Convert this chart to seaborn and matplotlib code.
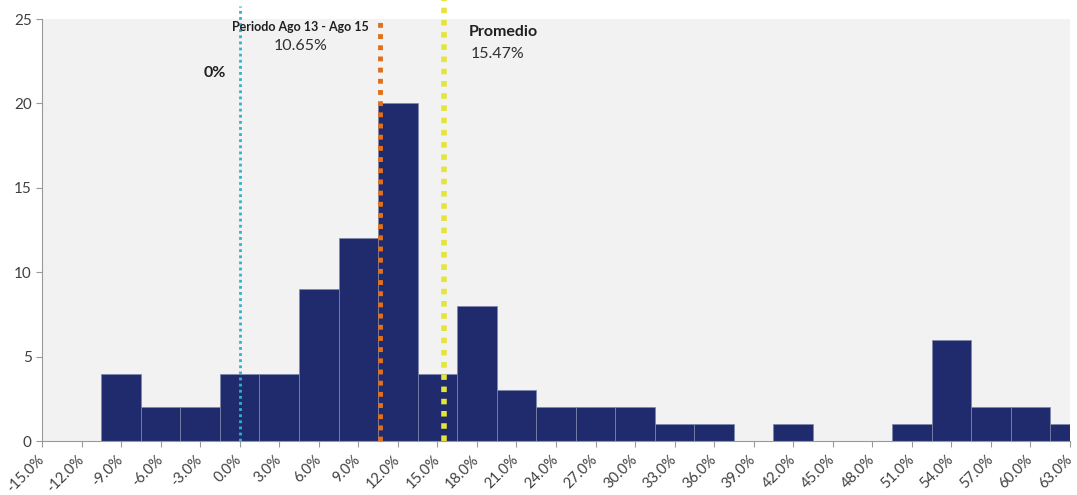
import numpy as np
import pandas as pd
import seaborn as sns
import matplotlib.pyplot as plt
from matplotlib.ticker import FuncFormatter

# centros de los intervalos (%) y frecuencias
centros = [-15, -12, -9, -6, -3, 0, 3, 6, 9, 12, 15, 18, 21, 24, 27,
           30, 33, 36, 39, 42, 45, 48, 51, 54, 57, 60, 63]
frecuencia = [0, 0, 4, 2, 2, 4, 4, 9, 12, 20, 4, 8, 3, 2, 2,
              2, 1, 1, 0, 1, 0, 0, 1, 6, 2, 2, 1]

# lineas de referencia
cero = 0.0
periodo = 10.65
promedio = 15.47

base = pd.DataFrame({'rend': centros, 'freq': frecuencia})

sns.set_style('white')
plt.rcParams['font.family'] = ['Lato', 'DejaVu Sans']

fig = plt.figure(figsize=(10.77, 4.95), dpi=100)
ax = fig.add_axes([0.039, 0.109, 0.9545, 0.8526])
ax.set_facecolor('#f2f2f2')

sns.histplot(data=base, x='rend', weights='freq', binwidth=3, binrange=(-16.5, 64.5),
             color='#1f2b6c', alpha=1, edgecolor='#7d87ab', linewidth=0.5, ax=ax)

ax.axvline(cero, ymin=0, ymax=1.03, color='#2fb3cc', lw=2, ls=(0, (1, 1.2)), clip_on=False)
ax.axvline(periodo, ymin=0, ymax=1.0, color='#e0701e', lw=3.5, ls=(0, (1, 1.3)), clip_on=False)
ax.axvline(promedio, ymin=0, ymax=1.045, color='#e4e43a', lw=4, ls=(0, (1, 1.2)), clip_on=False)

ax.text(4.6, 24.55, 'Periodo Ago 13 - Ago 15', fontsize=9, fontweight='bold',
        ha='center', va='center', color='#202020')
ax.text(4.6, 23.4, '10.65%', fontsize=11.5, ha='center', va='center', color='#303030')
ax.text(-1.9, 21.8, '0%', fontsize=11.5, fontweight='bold', ha='center', va='center', color='#202020')
ax.text(20.0, 24.25, 'Promedio', fontsize=11.5, fontweight='bold', ha='center', va='center', color='#202020')
ax.text(19.6, 22.95, '15.47%', fontsize=11.5, ha='center', va='center', color='#303030')

ax.set_xlim(-15, 63)
ax.set_ylim(0, 25)
ax.set_xticks(np.arange(-15, 64, 3))
ax.set_yticks(np.arange(0, 26, 5))
ax.xaxis.set_major_formatter(FuncFormatter(lambda v, p: f'{v:.1f}%'))
ax.set_xlabel('')
ax.set_ylabel('')
ax.tick_params(axis='both', direction='out', length=4, width=0.8, color='#999999',
               labelcolor='#404040', labelsize=11, bottom=True, left=True)
ax.tick_params(axis='x', labelsize=10.5, pad=8)
plt.setp(ax.get_xticklabels(), rotation=45, ha='right', va='center', rotation_mode='anchor')

for s in ['top', 'right']:
    ax.spines[s].set_visible(False)
for s in ['left', 'bottom']:
    ax.spines[s].set_color('#999999')
    ax.spines[s].set_linewidth(0.8)

fig.savefig('out.png', dpi=100)
